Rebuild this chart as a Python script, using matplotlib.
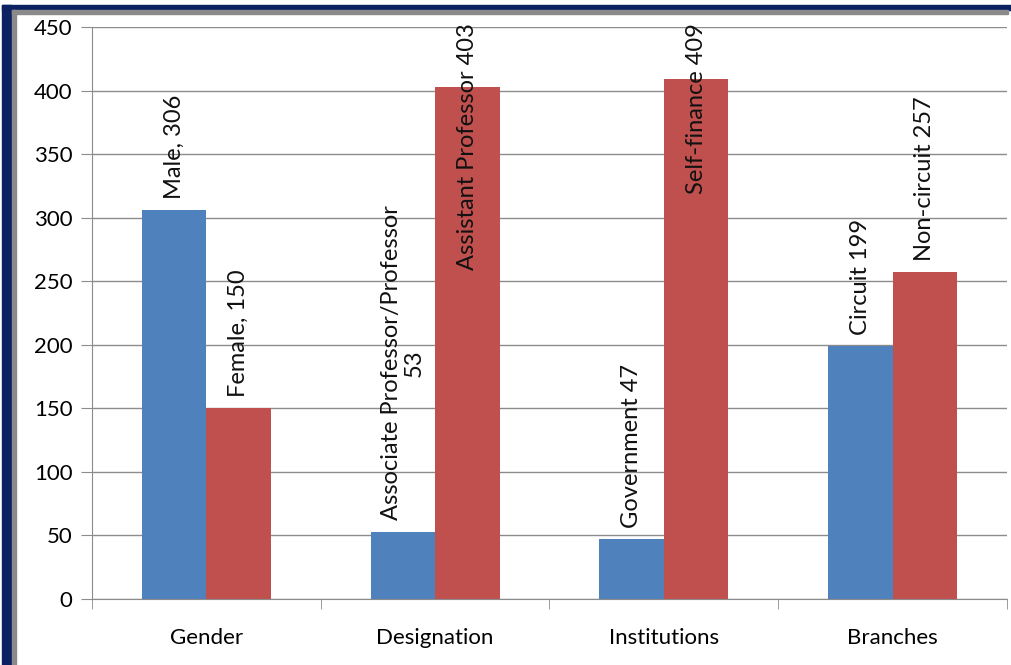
import numpy as np
import matplotlib
matplotlib.use('Agg')
import matplotlib.pyplot as plt
from matplotlib.patches import Rectangle

# Data
groups = ['Gender', 'Designation', 'Institutions', 'Branches']
blue_vals = [306, 53, 47, 199]
red_vals = [150, 403, 409, 257]
blue_labels = ['Male, 306', 'Associate Professor/Professor\n53', 'Government 47', 'Circuit 199']
red_labels = ['Female, 150', 'Assistant Professor 403', 'Self-finance 409', 'Non-circuit 257']

plt.rcParams['font.family'] = ['Lato', 'DejaVu Sans']

fig = plt.figure(figsize=(10.12, 6.65), dpi=100)
ax = fig.add_axes([0.0909, 0.0992, 0.9041, 0.8602])

x = np.arange(len(groups))
w = 0.282
blue = '#4F81BD'
red = '#C0504D'
ax.bar(x - w / 2, blue_vals, w, color=blue, zorder=2)
ax.bar(x + w / 2, red_vals, w, color=red, zorder=2)

ymax = 450

def put_label(xpos, val, txt):
    # labels that would run past the top are pushed down to fit
    if val > 350:
        ax.text(xpos, ymax + 3, txt, rotation=90, ha='center', va='top',
                fontsize=17, color='#111111', zorder=3, multialignment='center',
                linespacing=1.1, clip_on=False)
    else:
        ax.text(xpos, val + 9, txt, rotation=90, ha='center', va='bottom',
                fontsize=17, color='#111111', zorder=3, multialignment='center',
                linespacing=1.1)

for i in range(len(groups)):
    put_label(x[i] - w / 2, blue_vals[i], blue_labels[i])
    put_label(x[i] + w / 2, red_vals[i], red_labels[i])

ax.set_xlim(-0.5, 3.5)
ax.set_ylim(0, ymax)
ax.set_yticks(np.arange(0, 451, 50))
ax.yaxis.grid(True, color='#8c8c8c', linewidth=1.0, zorder=0)
ax.set_xticks(x)
ax.set_xticklabels(groups, fontsize=16)
ax.set_xticks(np.arange(-0.5, 4, 1), minor=True)
ax.tick_params(axis='x', which='major', length=0, pad=21)
ax.tick_params(axis='x', which='minor', length=7, color='#8c8c8c', direction='out')
ax.tick_params(axis='y', length=8, color='#8c8c8c', labelsize=16, pad=6)
for s in ['top', 'right']:
    ax.spines[s].set_visible(False)
for s in ['left', 'bottom']:
    ax.spines[s].set_color('#8c8c8c')

# outer frame
W, H = 1012, 665
fig.patches.append(Rectangle((2 / W, 0), 9 / W, 1 - 5 / H, transform=fig.transFigure,
                             color='#0b2161', zorder=5))
fig.patches.append(Rectangle((2 / W, 1 - 10 / H), 1 - 2 / W, 5 / H, transform=fig.transFigure,
                             color='#0b2161', zorder=5))
fig.patches.append(Rectangle((12 / W, 0), 4 / W, 1 - 10 / H, transform=fig.transFigure,
                             color='#8a8a8a', zorder=5))
fig.patches.append(Rectangle((12 / W, 1 - 14 / H), 1 - 16 / W, 4 / H, transform=fig.transFigure,
                             color='#8a8a8a', zorder=5))

fig.savefig('out.png', dpi=100)
